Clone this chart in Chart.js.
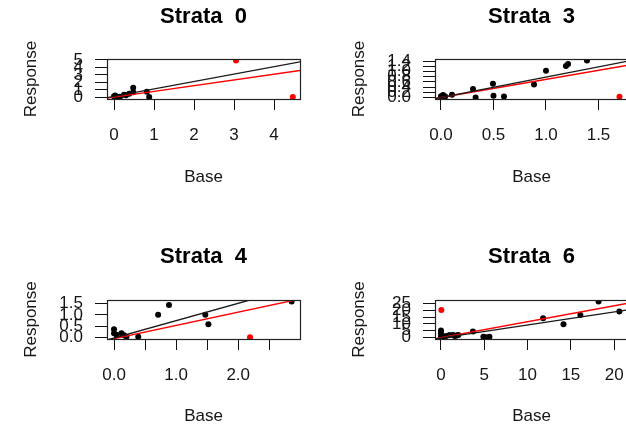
<!DOCTYPE html>
<html><head><meta charset="utf-8">
<script src="https://cdn.jsdelivr.net/npm/chart.js@4"></script>
<style>
html,body{margin:0;padding:0;background:#fff;overflow:hidden;width:626px;height:429px;position:relative;}
canvas{position:absolute;}
</style></head><body>
<canvas id="c0"></canvas><canvas id="c1"></canvas><canvas id="c2"></canvas><canvas id="c3"></canvas>
<script>
// ---------- data ----------
// Strata 0
const s0BlackX = [0.00, 0.03, 0.07, 0.15, 0.25, 0.30, 0.38, 0.48, 0.48, 0.82, 0.88];
const s0BlackY = [0.15, 0.25, 0.10, 0.10, 0.35, 0.30, 0.50, 1.30, 0.70, 0.75, 0.05];
const s0RedX = [3.05, 4.47];
const s0RedY = [4.93, 0.08];
const s0BlackLine = [0.15, 0.99];   // [intercept, slope]
const s0RedLine = [0.05, 0.765];
const s0XTicks = [0, 1, 2, 3, 4];
const s0XLabels = ["0", "1", "2", "3", "4"];
const s0YTicks = [0, 1, 2, 3, 4, 5];
const s0YLabels = ["0", "1", "2", "3", "4", "5"];

// Strata 3
const s3BlackX = [0.00, 0.02, 0.04, 0.105, 0.305, 0.33, 0.495, 0.50, 0.60, 0.886, 1.00, 1.19, 1.21, 1.39];
const s3BlackY = [0.05, 0.10, 0.04, 0.11, 0.33, 0.00, 0.53, 0.07, 0.04, 0.50, 1.03, 1.22, 1.29, 1.43];
const s3RedX = [1.70];
const s3RedY = [0.03];
const s3BlackLine = [0.0, 0.79];
const s3RedLine = [0.0, 0.70];
const s3XTicks = [0, 0.5, 1.0, 1.5];
const s3XLabels = ["0.0", "0.5", "1.0", "1.5"];
const s3YTicks = [0, 0.2, 0.4, 0.6, 0.8, 1.0, 1.2, 1.4];
const s3YLabels = ["0.0", "0.2", "0.4", "0.6", "0.8", "1.0", "1.2", "1.4"];

// Strata 4
const s4BlackX = [0.00, 0.00, 0.04, 0.12, 0.16, 0.20, 0.39, 0.71, 0.885, 1.47, 1.52, 2.86];
const s4BlackY = [0.37, 0.19, 0.12, 0.19, 0.10, 0.04, 0.03, 1.00, 1.44, 1.00, 0.59, 1.59];
const s4RedX = [2.19];
const s4RedY = [0.01];
const s4BlackLine = [-0.02, 0.765];
const s4RedLine = [-0.05, 0.585];
const s4XTicks = [0, 0.5, 1.0, 1.5, 2.0, 2.5];
const s4XLabels = ["0.0", "", "1.0", "", "2.0", ""];
const s4YTicks = [0, 0.5, 1.0, 1.5];
const s4YLabels = ["0.0", "0.5", "1.0", "1.5"];

// Strata 6
const s6BlackX = [0.0, 0.0, 0.0, 0.1, 0.3, 0.6, 1.0, 1.4, 1.6, 1.8, 2.0, 3.7, 4.9, 5.2, 5.6, 11.8, 14.15, 16.1, 18.2, 20.6];
const s6BlackY = [5.1, 3.1, 1.2, 0.4, 0.8, 1.2, 1.9, 1.9, 1.2, 1.5, 1.9, 4.4, 0.5, 0.3, 0.6, 14.1, 9.7, 16.5, 26.3, 19.0];
const s6RedX = [0.04];
const s6RedY = [20.1];
const s6BlackLine = [-0.3, 0.95];
const s6RedLine = [-0.05, 1.165];
const s6XTicks = [0, 5, 10, 15, 20];
const s6XLabels = ["0", "5", "10", "15", "20"];
const s6YTicks = [0, 5, 10, 15, 20, 25];
const s6YLabels = ["0", "5", "10", "15", "20", "25"];

// ---------- layout / styling ----------
const FONT = '"Liberation Sans", Arial, Helvetica, sans-serif';
const TXT = '#161616';
const cols = [
  {CL: 0, CW: 313, BL: 107, BR: 300, resp: 31.5},
  {CL: 313, CW: 330, BL: 435, BR: 628, resp: 359}
];
const rows = [
  {CT: 0, CH: 200, BT: 59, BB: 99, titleC: 17.3, baseC: 177, tickC: 135},
  {CT: 240, CH: 189, BT: 300, BB: 339, titleC: 257.3, baseC: 416.5, tickC: 375}
];

const panels = [
  {id: 'c0', title: 'Strata  0', col: 0, row: 0, bx: s0BlackX, by: s0BlackY, rx: s0RedX, ry: s0RedY,
   bl: s0BlackLine, rl: s0RedLine, xt: s0XTicks, xl: s0XLabels, yt: s0YTicks, yl: s0YLabels,
   xlim: [-0.175, 4.65], ylim: [-0.2, 5.13]},
  {id: 'c1', title: 'Strata  3', col: 1, row: 0, bx: s3BlackX, by: s3BlackY, rx: s3RedX, ry: s3RedY,
   bl: s3BlackLine, rl: s3RedLine, xt: s3XTicks, xl: s3XLabels, yt: s3YTicks, yl: s3YLabels,
   xlim: [-0.057, 1.781], ylim: [-0.057, 1.487]},
  {id: 'c2', title: 'Strata  4', col: 0, row: 1, bx: s4BlackX, by: s4BlackY, rx: s4RedX, ry: s4RedY,
   bl: s4BlackLine, rl: s4RedLine, xt: s4XTicks, xl: s4XLabels, yt: s4YTicks, yl: s4YLabels,
   xlim: [-0.113, 2.995], ylim: [-0.064, 1.656]},
  {id: 'c3', title: 'Strata  6', col: 1, row: 1, bx: s6BlackX, by: s6BlackY, rx: s6RedX, ry: s6RedY,
   bl: s6BlackLine, rl: s6RedLine, xt: s6XTicks, xl: s6XLabels, yt: s6YTicks, yl: s6YLabels,
   xlim: [-0.69, 21.6], ylim: [-1.06, 27.45]}
];

const boxPlugin = {
  id: 'rbox',
  afterDraw(chart) {
    const {ctx, chartArea: a} = chart;
    ctx.save();
    ctx.strokeStyle = '#222';
    ctx.lineWidth = 1.2;
    const l = Math.round(a.left), t = Math.round(a.top), r = Math.round(a.right), b = Math.round(a.bottom);
    ctx.strokeRect(l + 0.5, t + 0.5, r - l, b - t);
    ctx.restore();
  }
};

function pts(xs, ys) { return xs.map((x, i) => ({x: x, y: ys[i]})); }
function abline(coef, lim) { return lim.map(x => ({x: x, y: coef[0] + coef[1] * x})); }

const TITLE_SIZE = 22, LAB_SIZE = 17, TICK_LEN_X = 11, TICK_LEN_Y = 12;

panels.forEach(p => {
  const c = cols[p.col], r = rows[p.row];
  const cv = document.getElementById(p.id);
  cv.width = c.CW; cv.height = r.CH;
  cv.style.width = c.CW + 'px'; cv.style.height = r.CH + 'px';
  cv.style.left = c.CL + 'px'; cv.style.top = r.CT + 'px';

  const tLH = TITLE_SIZE * 1.2, lLH = LAB_SIZE * 1.2;
  const titlePadTop = r.titleC - r.CT - tLH / 2;
  const titlePadBottom = (r.BT - r.CT) - titlePadTop - tLH;
  const xAxisH = r.CT + r.CH - r.BB;
  const yAxisW = c.BL - c.CL;

  new Chart(cv, {
    type: 'scatter',
    data: {
      datasets: [
        {data: abline(p.bl, p.xlim), showLine: true, borderColor: '#1a1a1a', borderWidth: 1.4,
         pointRadius: 0, clip: 0, fill: false},
        {data: abline(p.rl, p.xlim), showLine: true, borderColor: '#ff0000', borderWidth: 1.4,
         pointRadius: 0, clip: 0, fill: false},
        {data: pts(p.rx, p.ry), backgroundColor: '#ff0000', borderWidth: 0, pointRadius: 3},
        {data: pts(p.bx, p.by), backgroundColor: '#000000', borderWidth: 0, pointRadius: 3}
      ]
    },
    options: {
      responsive: false,
      animation: false,
      devicePixelRatio: 1,
      layout: {padding: {left: 0, top: 0, bottom: 0, right: c.CL + c.CW - c.BR}},
      plugins: {
        legend: {display: false},
        tooltip: {enabled: false},
        title: {
          display: true, text: p.title, fullSize: false, color: '#000',
          font: {family: FONT, size: TITLE_SIZE, weight: 'bold', lineHeight: 1.2},
          padding: {top: titlePadTop, bottom: titlePadBottom}
        }
      },
      scales: {
        x: {
          type: 'linear', position: 'bottom', min: p.xlim[0], max: p.xlim[1], bounds: 'data',
          afterBuildTicks: s => { s.ticks = p.xt.map(v => ({value: v})); },
          afterFit: s => { s.height = xAxisH; },
          grid: {display: true, drawOnChartArea: false, drawTicks: true, tickLength: TICK_LEN_X, color: '#111', lineWidth: 1},
          border: {display: true, color: '#111', width: 1},
          ticks: {
            autoSkip: false, maxRotation: 0, minRotation: 0, color: TXT,
            padding: r.tickC - r.BB - TICK_LEN_X - lLH / 2,
            font: {family: FONT, size: LAB_SIZE, lineHeight: 1.2},
            callback: (v, i) => p.xl[i]
          },
          title: {
            display: true, text: 'Base', color: TXT,
            font: {family: FONT, size: LAB_SIZE, lineHeight: 1.2},
            padding: {top: 0, bottom: r.CT + r.CH - r.baseC - lLH / 2}
          }
        },
        y: {
          type: 'linear', position: 'left', min: p.ylim[0], max: p.ylim[1], bounds: 'data',
          afterBuildTicks: s => { s.ticks = p.yt.map(v => ({value: v})); },
          afterFit: s => { s.width = yAxisW; },
          grid: {display: true, drawOnChartArea: false, drawTicks: true, tickLength: TICK_LEN_Y, color: '#111', lineWidth: 1},
          border: {display: true, color: '#111', width: 1},
          ticks: {
            autoSkip: false, color: TXT, padding: 12,
            font: {family: FONT, size: LAB_SIZE, lineHeight: 1.2},
            callback: (v, i) => p.yl[i]
          },
          title: {
            display: true, text: 'Response', color: TXT,
            font: {family: FONT, size: LAB_SIZE, lineHeight: 1.2},
            padding: {top: c.resp - c.CL - lLH / 2, bottom: 0}
          }
        }
      }
    },
    plugins: [boxPlugin]
  });
});
</script>
</body></html>
